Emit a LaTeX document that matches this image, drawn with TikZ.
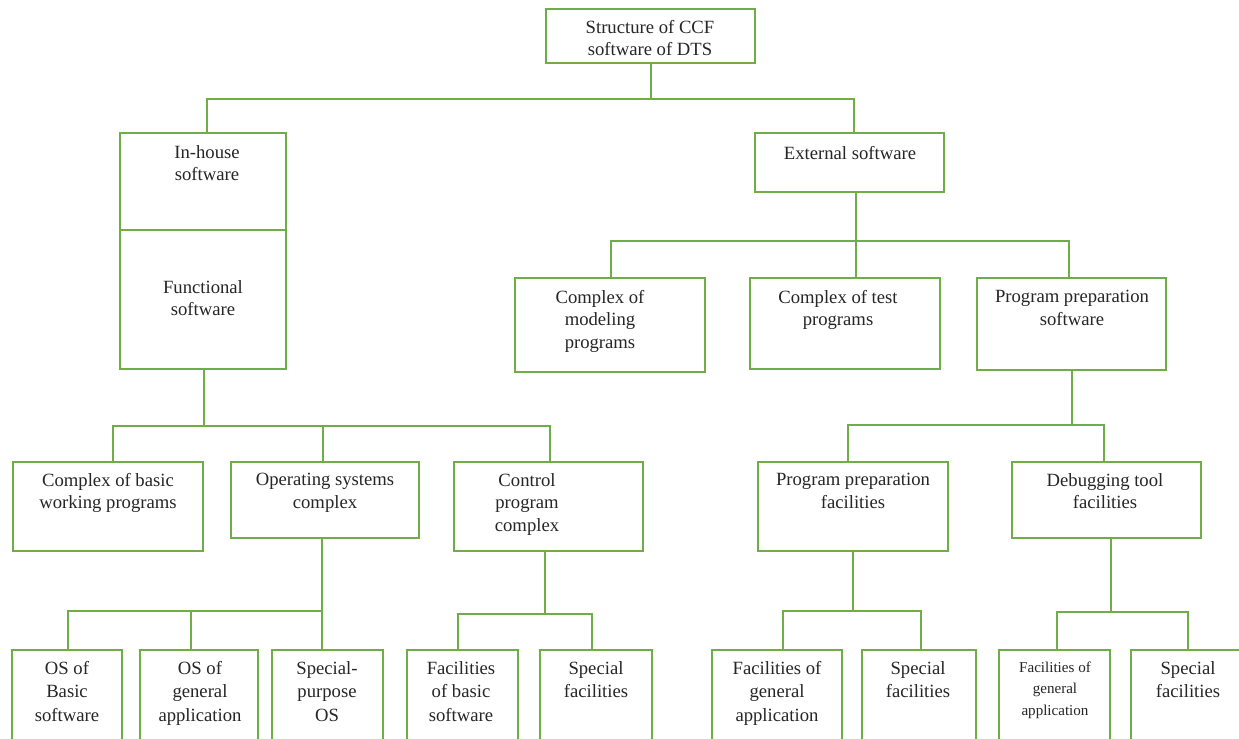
\documentclass[tikz,border=0pt]{standalone}
\usepackage{fontspec}
\setmainfont{Liberation Serif}
\usetikzlibrary{fit,calc}
\definecolor{lgreen}{RGB}{112,173,71}
\tikzset{
  box/.style={draw=lgreen, line width=1.4pt, inner sep=0pt, fill=white},
  conn/.style={draw=lgreen, line width=1.4pt},
  lbl/.style={anchor=north, inner sep=0pt, align=center, font=\fontsize{14}{16.9}\selectfont, text=black!85},
  lblb/.style={anchor=north, inner sep=0pt, align=center, font=\fontsize{14}{17.6}\selectfont, text=black!85},
  lbls/.style={anchor=north, inner sep=0pt, align=center, font=\fontsize{11.3}{15.8}\selectfont, text=black!85}
}
\begin{document}
\begin{tikzpicture}[x=0.75pt,y=-0.75pt]
\useasboundingbox (0,0) rectangle (1239,739);
\clip (0,0) rectangle (1239,739);
% boxes
\node[box, fit={(546,9) (755,63)}] (top) {};
\node[box, fit={(120,133) (286,369)}] (inh) {};
\coordinate (divl) at (120,230);
\coordinate (divr) at (286,230);
\node[box, fit={(755,133) (944,192)}] (ext) {};
\node[box, fit={(13,462) (203,551)}] (cbw) {};
\node[box, fit={(231,462) (419,538)}] (osc) {};
\node[box, fit={(454,462) (643,551)}] (cpc) {};
\node[box, fit={(515,278) (705,372)}] (cmp) {};
\node[box, fit={(750,278) (940,369)}] (ctp) {};
\node[box, fit={(977,278) (1166,370)}] (pps) {};
\node[box, fit={(758,462) (948,551)}] (ppf) {};
\node[box, fit={(1012,462) (1201,538)}] (dtf) {};
\node[box, fit={(12,650) (122,800)}] (b1) {};
\node[box, fit={(140,650) (258,800)}] (b2) {};
\node[box, fit={(272,650) (383,800)}] (b3) {};
\node[box, fit={(407,650) (518,800)}] (b4) {};
\node[box, fit={(540,650) (652,800)}] (b5) {};
\node[box, fit={(712,650) (842,800)}] (b6) {};
\node[box, fit={(862,650) (976,800)}] (b7) {};
\node[box, fit={(999,650) (1110,800)}] (b8) {};
\node[box, fit={(1131,650) (1260,800)}] (b9) {};
\draw[conn] (divl) -- (divr);
% connectors
\draw[conn] ($(top.south)+(0.5,0)$) -- ++(0,35) -| ($(inh.north)+(4,0)$);
\draw[conn] ($(top.south)+(0.5,0)$) -- ++(0,35) -| ($(ext.north)+(4.5,0)$);
\draw[conn] ($(inh.south)+(1,0)$) -- ++(0,56) -| ($(cbw.north)+(5,0)$);
\draw[conn] ($(inh.south)+(1,0)$) -- ++(0,56) -| ($(osc.north)+(-2,0)$);
\draw[conn] ($(inh.south)+(1,0)$) -- ++(0,56) -| ($(cpc.north)+(1.5,0)$);
\draw[conn] ($(ext.south)+(6.5,0)$) -- ++(0,48) -| ($(cmp.north)+(1,0)$);
\draw[conn] ($(ext.south)+(6.5,0)$) -- ++(0,48) -| ($(ctp.north)+(11,0)$);
\draw[conn] ($(ext.south)+(6.5,0)$) -- ++(0,48) -| ($(pps.north)+(-2.5,0)$);
\draw[conn] ($(pps.south)+(0.5,0)$) -- ++(0,54) -| ($(ppf.north)+(-5,0)$);
\draw[conn] ($(pps.south)+(0.5,0)$) -- ++(0,54) -| ($(dtf.north)+(-2.5,0)$);
\draw[conn] ($(osc.south)+(-3,0)$) -- ++(0,72) -| ($(b1.north)+(1,0)$);
\draw[conn] ($(osc.south)+(-3,0)$) -- ++(0,72) -| ($(b2.north)+(-8,0)$);
\draw[conn] ($(osc.south)+(-3,0)$) -- ++(0,72) -| ($(b3.north)+(-5.5,0)$);
\draw[conn] ($(cpc.south)+(-3.5,0)$) -- ++(0,62) -| ($(b4.north)+(-4.5,0)$);
\draw[conn] ($(cpc.south)+(-3.5,0)$) -- ++(0,62) -| ($(b5.north)+(-4,0)$);
\draw[conn] (ppf.south) -- ++(0,59) -| ($(b6.north)+(6,0)$);
\draw[conn] (ppf.south) -- ++(0,59) -| ($(b7.north)+(2,0)$);
\draw[conn] ($(dtf.south)+(4.5,0)$) -- ++(0,73) -| ($(b8.north)+(2.5,0)$);
\draw[conn] ($(dtf.south)+(4.5,0)$) -- ++(0,73) -| (1188,650);
% labels
\node[lbl] (ttop) at (650,20) {Structure of CCF\\software of DTS};
\node[lbl] (tinh) at (207,145) {In-house\\software};
\node[lbl] (tfun) at (203,280) {Functional\\software};
\node[lbl] (text) at (850,146) {External software};
\node[lbl] (tcbw) at (108,473) {Complex of basic\\working programs};
\node[lbl] (tosc) at (325,473) {Operating systems\\complex};
\node[lbl] (tcpc) at (527,473) {Control\\program\\complex};
\node[lbl] (tcmp) at (600,290) {Complex of\\modeling\\programs};
\node[lbl] (tctp) at (838,290) {Complex of test\\programs};
\node[lbl] (tpps) at (1072,290) {Program preparation\\software};
\node[lbl] (tppf) at (853,473) {Program preparation\\facilities};
\node[lbl] (tdtf) at (1105,473) {Debugging tool\\facilities};
\node[lblb] (tb1) at (67,661) {OS of\\Basic\\software};
\node[lblb] (tb2) at (200,661) {OS of\\general\\application};
\node[lblb] (tb3) at (327,661) {Special-\\purpose\\OS};
\node[lblb] (tb4) at (461,661) {Facilities\\of basic\\software};
\node[lblb] (tb5) at (596,661) {Special\\facilities};
\node[lblb] (tb6) at (777,661) {Facilities of\\general\\application};
\node[lblb] (tb7) at (918,661) {Special\\facilities};
\node[lbls] (tb8) at (1055,662) {Facilities of\\general\\application};
\node[lblb] (tb9) at (1188,661) {Special\\facilities};
\end{tikzpicture}
\end{document}
